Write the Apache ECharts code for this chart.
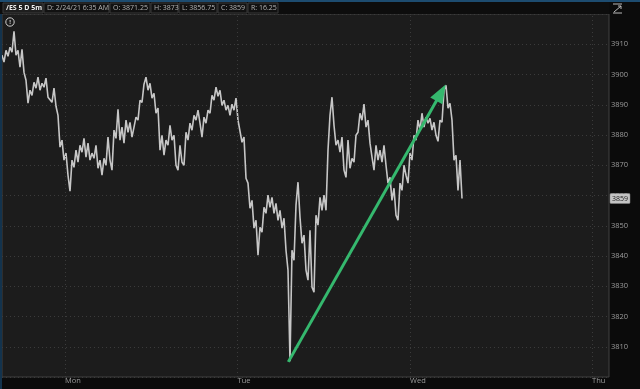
<!DOCTYPE html>
<html>
<head>
<meta charset="utf-8">
<script src="https://cdn.jsdelivr.net/npm/echarts@6/dist/echarts.min.js"></script>
<style>
html,body{margin:0;padding:0;background:#0b0b0b;}
#c{width:640px;height:389px;}
</style>
</head>
<body>
<div id="c"></div>
<script>
// 5-min /ES price path sampled left to right (zigzag of bar highs/lows)
const prices = [
3906.4,3904.1,3908.0,3906.0,3909.0,3907.4,3914.3,3906.4,3908.0,3902.4,
3908.3,3900.7,3898.1,3890.5,3894.8,3893.1,3897.4,3895.5,3899.1,3894.8,
3897.1,3895.8,3898.8,3892.5,3892.2,3890.8,3895.5,3889.5,3886.5,3876.0,
3878.3,3871.7,3874.0,3866.7,3861.4,3871.7,3869.3,3875.0,3871.0,3876.6,
3874.3,3878.9,3872.7,3877.3,3871.7,3874.0,3872.3,3876.6,3869.0,3871.7,
3866.7,3872.3,3870.0,3879.3,3871.7,3868.4,3881.6,3878.9,3888.5,3878.3,
3882.6,3877.3,3884.9,3880.9,3884.2,3879.3,3878.9,3885.9,3884.9,3891.5,
3890.8,3896.8,3899.1,3894.8,3897.1,3892.2,3893.8,3887.2,3888.9,3875.0,
3879.9,3873.3,3878.3,3876.6,3883.2,3878.3,3879.9,3870.0,3868.4,3876.6,
3871.0,3870.0,3880.9,3878.3,3883.9,3881.6,3886.5,3884.9,3888.2,3883.9,
3879.3,3885.9,3883.9,3888.2,3887.2,3893.1,3891.5,3895.8,3892.8,3894.8,
3889.8,3891.5,3888.2,3889.8,3886.5,3890.2,3888.2,3892.2,3884.9,3885.5,
3877.6,3879.3,3865.7,3864.1,3855.8,3858.4,3849.2,3851.8,3840.3,3849.5,
3847.9,3856.1,3854.1,3860.1,3856.1,3859.4,3854.1,3857.4,3851.8,3855.1,
3849.2,3852.5,3841.9,3835.3,3805.2,3841.9,3838.6,3856.8,3864.4,3852.8,
3844.2,3846.9,3835.3,3832.0,3848.5,3829.7,3828.0,3853.5,3850.2,3859.4,
3855.1,3860.1,3855.1,3875.0,3886.5,3892.5,3883.2,3876.6,3878.3,3874.3,
3879.3,3868.4,3866.0,3878.3,3869.0,3872.3,3871.0,3879.9,3880.9,3887.2,
3884.9,3890.2,3882.6,3884.9,3877.3,3872.7,3868.4,3876.6,3871.7,3875.0,
3871.0,3876.6,3870.0,3864.1,3866.0,3858.4,3862.4,3853.5,3851.8,3864.1,
3861.7,3870.0,3866.7,3864.1,3874.0,3871.7,3879.9,3878.3,3884.9,3881.6,
3887.2,3882.6,3885.9,3883.9,3885.5,3881.6,3884.2,3879.9,3877.9,3884.9,
3884.2,3894.8,3896.4,3888.9,3890.5,3884.9,3871.7,3873.3,3861.7,3871.7,
3859.0
];
const slotCount = 303.5;             // visible time slots across the plot
const yMin = 3800, yMax = 3920, yStep = 10;
const dayLabels = ['Mon', 'Tue', 'Wed', 'Thu'];
const daySlots = [31.5, 117.75, 204, 295];
const arrowFrom = [143.15, 3805.0];
const arrowTo = [219.5, 3894.0];
const headerFields = ['/ES 5 D 5m', 'D: 2/24/21 6:35 AM', 'O: 3871.25', 'H: 3873', 'L: 3856.75', 'C: 3859', 'R: 16.25'];

const FONT = '"Open Sans", "Noto Sans", sans-serif';
const chart = echarts.init(document.getElementById('c'), null, {renderer: 'canvas'});

chart.setOption({
  backgroundColor: '#0b0b0b',
  animation: false,
  grid: {left: 2, right: 31, top: 14, bottom: 12, show: true,
         backgroundColor: '#1c1c1c', borderColor: '#404040', borderWidth: 1},
  xAxis: {
    type: 'value', min: 0, max: slotCount,
    axisLabel: {show: false}, axisTick: {show: false}, axisLine: {show: false},
    splitLine: {show: false}
  },
  yAxis: {
    type: 'value', position: 'right', min: yMin, max: yMax, interval: yStep,
    axisLine: {show: false},
    axisTick: {show: true, inside: true, length: 3, lineStyle: {color: '#777'}},
    axisLabel: {color: '#9c9c9c', fontSize: 7.5, fontFamily: FONT, margin: 2,
                formatter: v => String(v),
                showMinLabel: false, showMaxLabel: false},
    splitLine: {show: true, lineStyle: {color: '#3b3b3b', type: [1, 3], width: 1}}
  },
  series: [
    {
      type: 'line',
      data: prices.map((v, i) => [i, v]),
      showSymbol: false,
      lineStyle: {color: '#c6c6c6', width: 1.6},
      z: 3,
      markLine: {
        silent: true, symbol: ['none', 'none'],
        label: {show: false},
        lineStyle: {color: '#3b3b3b', type: [1, 3], width: 1},
        data: daySlots.map(d => ({xAxis: d}))
      }
    },
    {
      type: 'line',
      data: [],
      z: 5,
      markLine: {
        silent: true,
        label: {show: false},
        lineStyle: {color: '#35b86e', width: 3, type: 'solid'},
        data: [[
          {coord: arrowFrom, symbol: 'none'},
          {coord: arrowTo, symbol: 'triangle', symbolSize: [14, 19]}
        ]]
      }
    }
  ]
});

// overlay: header toolbar, day labels, last price tag, icons
const g = [];
g.push({type: 'rect', shape: {x: 0, y: 0, width: 640, height: 2}, style: {fill: '#1d4c70'}, z: 10});
g.push({type: 'rect', shape: {x: 0, y: 2, width: 609, height: 12}, style: {fill: '#0d0d0d'}, z: 10});
g.push({type: 'rect', shape: {x: 0, y: 14, width: 2, height: 375}, style: {fill: '#13334d'}, z: 10});
const boxes = [[3, 40], [44, 65], [110, 40], [151, 27], [179, 38], [218, 29], [248, 30]];
headerFields.forEach((t, k) => {
  const [bx, bw] = boxes[k];
  g.push({type: 'rect', shape: {x: bx, y: 3, width: bw, height: 10},
          style: {fill: k === 0 ? '#1e1e1e' : '#111', stroke: '#3a3a3a', lineWidth: 1}, z: 11});
  g.push({type: 'text', x: bx + 3, y: 8, z: 12,
          style: {text: t, fill: k === 0 ? '#f0f0f0' : '#b4b4b4', fontSize: 7,
                  fontWeight: k === 0 ? 'bold' : 'normal', fontFamily: FONT, verticalAlign: 'middle'}});
});
// info icon
g.push({type: 'circle', shape: {cx: 10, cy: 22, r: 4.2}, style: {fill: 'none', stroke: '#cfcfcf', lineWidth: 1}, z: 12});
g.push({type: 'text', x: 10, y: 22, z: 12, style: {text: '!', fill: '#cfcfcf', fontSize: 6, fontWeight: 'bold',
        fontFamily: FONT, align: 'center', verticalAlign: 'middle'}});
// top-right expand icon
g.push({type: 'polyline', shape: {points: [[613, 4], [622, 4]]}, style: {stroke: '#bbb', lineWidth: 1}, z: 12});
g.push({type: 'polyline', shape: {points: [[613, 13], [622, 13]]}, style: {stroke: '#bbb', lineWidth: 1}, z: 12});
g.push({type: 'polyline', shape: {points: [[614, 12], [621, 6]]}, style: {stroke: '#bbb', lineWidth: 1}, z: 12});
g.push({type: 'polyline', shape: {points: [[618, 6], [621, 6], [621, 9]]}, style: {stroke: '#bbb', lineWidth: 1, fill: 'none'}, z: 12});
// day labels
dayLabels.forEach((d, k) => {
  const px = chart.convertToPixel({xAxisIndex: 0}, daySlots[k]);
  g.push({type: 'text', x: px, y: 381, z: 12,
          style: {text: d, fill: '#9c9c9c', fontSize: 7.5, fontFamily: FONT, align: 'left', verticalAlign: 'middle'}});
});
// last price tag
const last = prices[prices.length - 1];
const py = chart.convertToPixel({yAxisIndex: 0}, last);
g.push({type: 'rect', shape: {x: 610, y: py - 5, width: 20, height: 10, r: 1},
        style: {fill: '#c4c4c4', stroke: '#888', lineWidth: 0.5}, z: 12});
g.push({type: 'text', x: 620, y: py, z: 13,
        style: {text: String(Math.round(last)), fill: '#222', fontSize: 7, fontFamily: FONT,
                align: 'center', verticalAlign: 'middle'}});
chart.setOption({graphic: g});
</script>
</body>
</html>
